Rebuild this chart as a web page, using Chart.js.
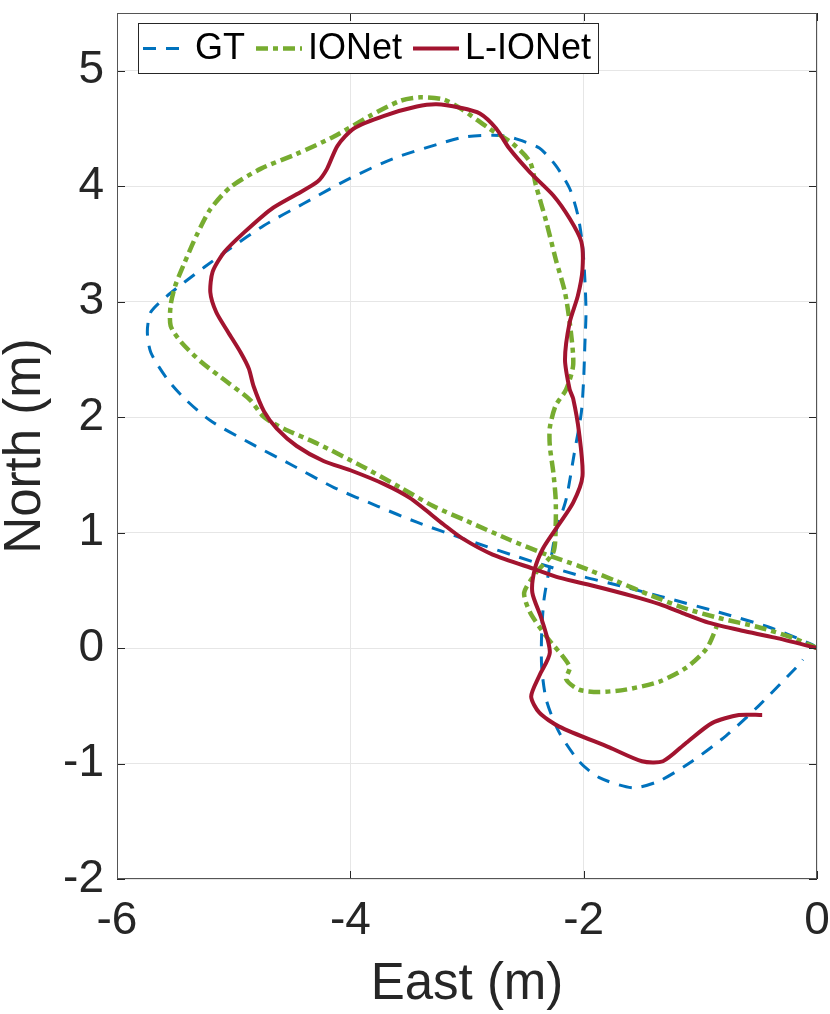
<!DOCTYPE html>
<html><head><meta charset="utf-8">
<script src="https://cdn.jsdelivr.net/npm/chart.js@4.4.0/dist/chart.umd.min.js"></script>
<style>html,body{margin:0;padding:0;background:#fff;}#wrap{width:830px;height:1014px;}</style>
</head><body><div id="wrap"><canvas id="c" width="830" height="1014"></canvas></div>
<script>
const seriesNames = ['GT', 'IONet', 'L-IONet'];
const seriesColors = ['#0072BD', '#77AC30', '#A2142F'];

const gtEast = [0, -0.04, -0.41, -0.84, -1.35, -1.69, -2.01, -2.41, -3.04, -3.43, -3.77, -4.14, -4.51, -4.85, -5.20, -5.42, -5.57, -5.71, -5.74, -5.71, -5.57, -5.42, -5.25, -5.03, -4.74, -4.40, -4.00, -3.63, -3.23, -3.00, -2.72, -2.58, -2.38, -2.24, -2.12, -2.05, -2.01, -1.99, -1.98, -1.99, -2.00, -2.02, -2.08, -2.15, -2.24, -2.29, -2.34, -2.36, -2.36, -2.32, -2.21, -2.04, -1.87, -1.58, -1.35, -1.07, -0.78, -0.50, -0.17, -0.12];
const gtNorth = [0, 0.03, 0.18, 0.31, 0.45, 0.54, 0.62, 0.74, 0.95, 1.09, 1.23, 1.39, 1.59, 1.77, 1.97, 2.16, 2.33, 2.56, 2.74, 2.91, 3.05, 3.17, 3.30, 3.46, 3.66, 3.85, 4.07, 4.24, 4.37, 4.43, 4.44, 4.41, 4.33, 4.18, 3.98, 3.75, 3.49, 3.20, 2.91, 2.62, 2.33, 2.04, 1.69, 1.29, 1.00, 0.71, 0.42, 0.13, -0.16, -0.45, -0.73, -0.98, -1.12, -1.21, -1.15, -0.98, -0.76, -0.50, -0.16, -0.10];

const ionetEast = [0, -0.21, -0.50, -0.84, -1.12, -1.41, -1.72, -2.04, -2.32, -2.64, -3.00, -3.29, -3.57, -3.91, -4.28, -4.57, -4.74, -4.86, -5.05, -5.28, -5.45, -5.54, -5.54, -5.50, -5.42, -5.32, -5.20, -5.03, -4.77, -4.46, -4.14, -3.83, -3.57, -3.40, -3.20, -3.05, -2.81, -2.61, -2.46, -2.41, -2.32, -2.24, -2.16, -2.11, -2.09, -2.15, -2.24, -2.29, -2.29, -2.26, -2.24, -2.24, -2.26, -2.41, -2.51, -2.46, -2.32, -2.12, -2.15, -2.04, -1.87, -1.64, -1.35, -1.12, -0.95, -0.87, -0.85];
const ionetNorth = [0, 0.09, 0.18, 0.26, 0.34, 0.45, 0.58, 0.71, 0.81, 0.94, 1.10, 1.23, 1.39, 1.58, 1.77, 1.90, 2.00, 2.15, 2.30, 2.48, 2.65, 2.79, 2.97, 3.14, 3.34, 3.57, 3.80, 3.99, 4.15, 4.28, 4.43, 4.61, 4.74, 4.77, 4.75, 4.67, 4.50, 4.37, 4.21, 4.01, 3.69, 3.37, 3.08, 2.74, 2.45, 2.24, 2.10, 1.91, 1.75, 1.52, 1.29, 1.06, 0.83, 0.65, 0.48, 0.31, 0.10, -0.16, -0.27, -0.36, -0.38, -0.36, -0.29, -0.17, -0.01, 0.16, 0.23];

const lionetEast = [0, -0.36, -0.64, -0.93, -1.12, -1.35, -1.58, -1.92, -2.21, -2.41, -2.78, -3.04, -3.20, -3.49, -3.71, -4.00, -4.23, -4.46, -4.63, -4.74, -4.83, -4.87, -4.94, -5.05, -5.15, -5.20, -5.18, -5.08, -4.91, -4.68, -4.46, -4.28, -4.20, -4.11, -3.97, -3.71, -3.43, -3.26, -3.06, -2.89, -2.75, -2.64, -2.46, -2.26, -2.12, -2.02, -2.01, -2.05, -2.12, -2.16, -2.12, -2.09, -2.04, -2.01, -2.09, -2.24, -2.35, -2.42, -2.44, -2.36, -2.29, -2.38, -2.45, -2.38, -2.21, -1.78, -1.50, -1.32, -1.12, -0.90, -0.67, -0.47];
const lionetNorth = [0, 0.09, 0.15, 0.22, 0.29, 0.38, 0.45, 0.54, 0.61, 0.68, 0.81, 0.95, 1.07, 1.30, 1.42, 1.54, 1.62, 1.75, 1.90, 2.05, 2.27, 2.42, 2.56, 2.74, 2.91, 3.08, 3.26, 3.43, 3.60, 3.80, 3.93, 4.04, 4.15, 4.35, 4.50, 4.61, 4.69, 4.71, 4.68, 4.63, 4.50, 4.33, 4.12, 3.92, 3.72, 3.52, 3.28, 3.05, 2.82, 2.50, 2.24, 2.16, 1.87, 1.49, 1.26, 1.03, 0.86, 0.68, 0.48, 0.25, -0.04, -0.24, -0.42, -0.56, -0.68, -0.86, -0.98, -0.98, -0.82, -0.65, -0.58, -0.58];

const xTickValues = [-6, -4, -2, 0];
const xTickLabels = ['-6', '-4', '-2', '0'];
const yTickValues = [-2, -1, 0, 1, 2, 3, 4, 5];
const yTickLabels = ['-2', '-1', '0', '1', '2', '3', '4', '5'];
const xTitle = 'East (m)';
const yTitle = 'North (m)';

const FONT = "'Liberation Sans', Arial, Helvetica, sans-serif";
const dashes = [[13, 10], [12, 5, 5, 5], []];
const widths = [3, 4.5, 4];

function pts(xs, ys) { return xs.map((v, i) => ({x: v, y: ys[i]})); }
const seriesData = [pts(gtEast, gtNorth), pts(ionetEast, ionetNorth), pts(lionetEast, lionetNorth)];

const datasets = seriesNames.map((name, i) => ({
  label: name,
  data: seriesData[i],
  showLine: true,
  borderColor: seriesColors[i],
  backgroundColor: seriesColors[i],
  borderWidth: widths[i],
  borderDash: dashes[i],
  borderCapStyle: 'butt',
  borderJoinStyle: 'round',
  pointRadius: 0,
  pointHoverRadius: 0,
  tension: 0.25,
  fill: false,
  order: 3 - i
}));

const framePlugin = {
  id: 'frame',
  afterDraw(chart) {
    const {ctx, chartArea: a, scales: {x, y}} = chart;
    ctx.save();
    ctx.setLineDash([]);
    ctx.strokeStyle = '#262626';
    ctx.lineWidth = 1;
    ctx.beginPath();
    xTickValues.forEach(v => {
      const px = Math.round(x.getPixelForValue(v)) + 0.5;
      ctx.moveTo(px, a.bottom); ctx.lineTo(px, a.bottom - 8);
      ctx.moveTo(px, a.top); ctx.lineTo(px, a.top + 8);
    });
    yTickValues.forEach(v => {
      const py = Math.round(y.getPixelForValue(v)) + 0.5;
      ctx.moveTo(a.left, py); ctx.lineTo(a.left + 8, py);
      ctx.moveTo(a.right, py); ctx.lineTo(a.right - 8, py);
    });
    ctx.stroke();
    ctx.strokeStyle = '#555';
    ctx.strokeRect(a.left + 0.5, a.top + 0.5, a.right - a.left - 1, a.bottom - a.top - 1);

    // legend
    const bx = a.left + 21, by = a.top + 10, bw = 461, bh = 51;
    ctx.fillStyle = '#fff';
    ctx.fillRect(bx, by, bw, bh);
    ctx.strokeStyle = '#262626';
    ctx.strokeRect(bx + 0.5, by + 0.5, bw - 1, bh - 1);
    ctx.font = '36px ' + FONT;
    ctx.textBaseline = 'middle';
    ctx.textAlign = 'left';
    const cy = by + bh / 2;
    let cx = bx + 5;
    seriesNames.forEach((name, i) => {
      ctx.beginPath();
      ctx.setLineDash(dashes[i]);
      ctx.lineWidth = widths[i];
      ctx.strokeStyle = seriesColors[i];
      ctx.lineCap = 'butt';
      ctx.moveTo(cx, cy); ctx.lineTo(cx + 46, cy);
      ctx.stroke();
      ctx.setLineDash([]);
      cx += 52;
      ctx.fillStyle = '#000';
      ctx.fillText(name, cx, cy + 1);
      cx += ctx.measureText(name).width + 11;
    });
    ctx.restore();
  }
};

new Chart(document.getElementById('c'), {
  type: 'scatter',
  data: {datasets},
  options: {
    responsive: false,
    animation: false,
    devicePixelRatio: 1,
    layout: {padding: {left: 0, right: 13, top: 13, bottom: 0}},
    plugins: {legend: {display: false}, tooltip: {enabled: false}},
    scales: {
      x: {
        type: 'linear', min: -6, max: 0,
        afterFit(s) { s.height = 135; s.paddingLeft = 0; s.paddingRight = 0; },
        afterBuildTicks(s) { s.ticks = xTickValues.map(v => ({value: v})); },
        grid: {color: '#e6e6e6', drawTicks: false, lineWidth: 1},
        border: {display: false},
        ticks: {
          padding: 15, color: '#262626', maxRotation: 0, autoSkip: false,
          font: {family: FONT, size: 46},
          callback: (v) => xTickLabels[xTickValues.indexOf(v)]
        },
        title: {display: true, text: xTitle, color: '#262626', font: {family: FONT, size: 51, lineHeight: 1}, padding: {top: 0, bottom: 4}}
      },
      y: {
        type: 'linear', min: -2, max: 5.5,
        afterFit(s) { s.width = 117; s.paddingTop = 0; s.paddingBottom = 0; },
        afterBuildTicks(s) { s.ticks = yTickValues.map(v => ({value: v})); },
        grid: {color: '#e6e6e6', drawTicks: false, lineWidth: 1},
        border: {display: false},
        ticks: {
          padding: 13, color: '#262626', autoSkip: false,
          font: {family: FONT, size: 46},
          callback: (v) => yTickLabels[yTickValues.indexOf(v)]
        },
        title: {display: true, text: yTitle, color: '#262626', font: {family: FONT, size: 51, lineHeight: 1}, padding: {top: 0, bottom: 0}}
      }
    }
  },
  plugins: [framePlugin]
});
</script>
</body></html>
